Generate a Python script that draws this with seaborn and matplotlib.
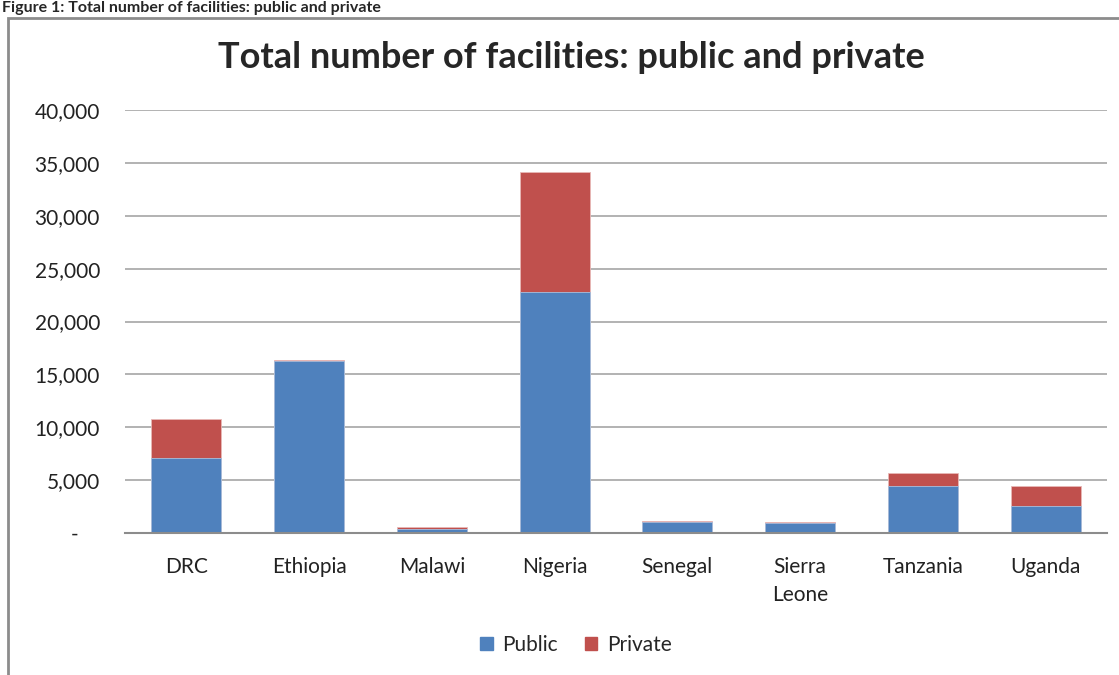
import numpy as np
import pandas as pd
import matplotlib
matplotlib.use("Agg")
import matplotlib.pyplot as plt
import seaborn as sns
from matplotlib.patches import Rectangle, Patch

countries = ["DRC", "Ethiopia", "Malawi", "Nigeria", "Senegal", "Sierra\nLeone", "Tanzania", "Uganda"]
public = [7060, 16250, 350, 22790, 1010, 920, 4440, 2550]
private = [3720, 80, 220, 11310, 120, 120, 1210, 1870]

yticks = [0, 5000, 10000, 15000, 20000, 25000, 30000, 35000, 40000]
ytick_labels = ["-    ", "5,000", "10,000", "15,000", "20,000", "25,000", "30,000", "35,000", "40,000"]

blue = "#4F81BD"
red = "#C0504D"

sns.set_theme(style="white")
plt.rcParams["font.family"] = ["Lato", "DejaVu Sans"]

df = pd.DataFrame({"country": countries, "public": public, "private": private})
df["total"] = df["public"] + df["private"]

fig = plt.figure(figsize=(11.19, 6.75), dpi=100)
ax = fig.add_axes([125 / 1119, 1 - 533 / 675, 982 / 1119, 423 / 675])

# stacked bars: total in red, public drawn over it in blue
sns.barplot(data=df, x="country", y="total", color=red, width=0.57, saturation=1,
            edgecolor="#e8b8b6", linewidth=0.6, ax=ax)
sns.barplot(data=df, x="country", y="public", color=blue, width=0.57, saturation=1,
            edgecolor="#a9c0de", linewidth=0.6, ax=ax)

ax.set_ylim(0, 40000)
ax.set_yticks(yticks)
ax.set_yticklabels(ytick_labels)
ax.set_xlabel("")
ax.set_ylabel("")
ax.yaxis.grid(True, color="#a6a6a6", linewidth=1.2)
ax.set_axisbelow(True)
for s in ["top", "right", "left"]:
    ax.spines[s].set_visible(False)
ax.spines["bottom"].set_color("#8c8c8c")
ax.spines["bottom"].set_linewidth(1.5)
ax.tick_params(axis="y", labelsize=15, pad=18, length=0, colors="#222222")
ax.tick_params(axis="x", labelsize=15, pad=17, length=0, colors="#222222")
for lbl in ax.get_xticklabels():
    lbl.set_linespacing(1.5)

fig.text(571 / 1119, 1 - 57 / 675, "Total number of facilities: public and private",
         ha="center", va="center", fontsize=26, fontweight="bold")

handles = [Patch(color=blue, label="Public"), Patch(color=red, label="Private")]
fig.legend(handles=handles, loc="center", bbox_to_anchor=(576 / 1119, 1 - 645 / 675),
           ncol=2, frameon=False, fontsize=15, handlelength=0.6, handleheight=0.6,
           handletextpad=0.45, columnspacing=1.3)

# chart border and caption above it
fig.patches.append(Rectangle((8 / 1119, -0.05), 1.2, 1 - 18 / 675 + 0.05,
                             transform=fig.transFigure, fill=False,
                             edgecolor="#8c8c8c", linewidth=2))
fig.text(2 / 1119, 1 - 1 / 675, "Figure 1: Total number of facilities: public and private",
         ha="left", va="top", fontsize=11.5, fontweight="bold")

fig.savefig("out.png", dpi=100)
